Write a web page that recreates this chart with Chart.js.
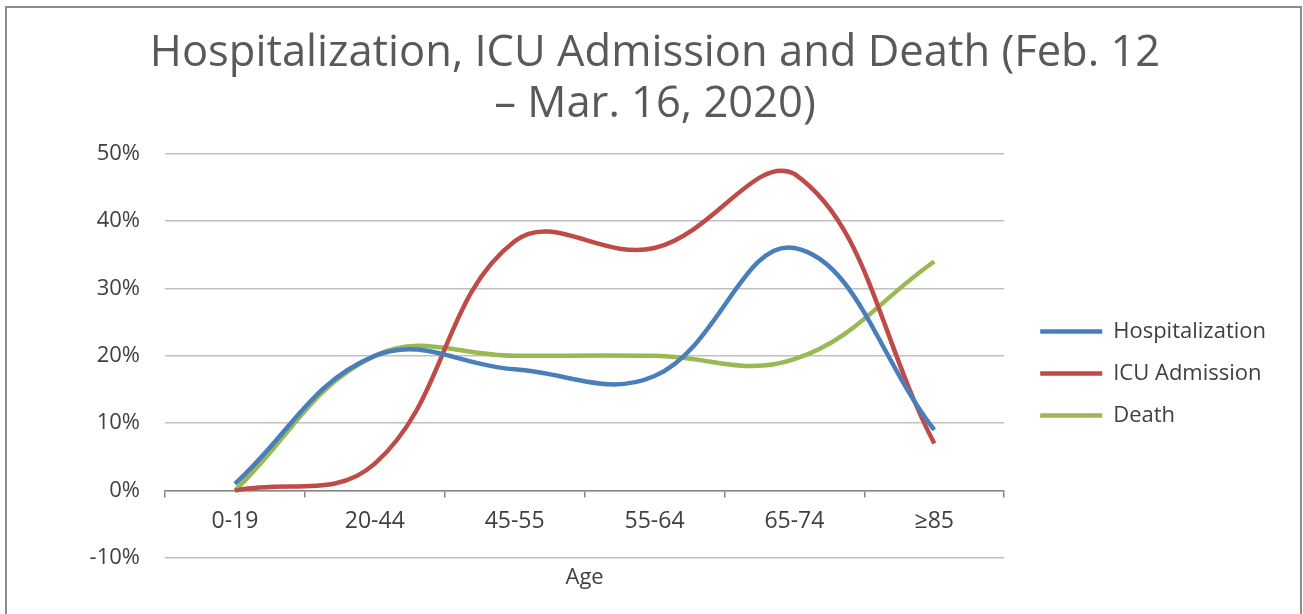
<!DOCTYPE html>
<html>
<head>
<meta charset="utf-8">
<script src="https://cdn.jsdelivr.net/npm/chart.js@4.4.1/dist/chart.umd.min.js"></script>
<style>
	html, body { margin: 0; padding: 0; background: #fff; overflow: hidden; }
	#wrap { position: relative; width: 1303px; height: 614px; }
	#frame {
		position: absolute; left: 5px; top: 6px; width: 1293px; height: 640px;
		border: 2px solid #8c8c8c; pointer-events: none;
	}
</style>
</head>
<body>
<div id="wrap">
	<canvas id="chart" width="1303" height="614"></canvas>
	<div id="frame"></div>
</div>
<script>
const ageGroups = ["0-19", "20-44", "45-55", "55-64", "65-74", "\u226585"];
const hospitalization = [1, 20, 18, 17, 36, 9];
const icuAdmission = [0, 4, 37, 36, 47, 7];
const death = [0, 20, 20, 20, 19.5, 34];

const textFont = "'Open Sans', sans-serif";

// nudge the legend to where Excel put it (right of the plot, mid height)
const legendNudge = {
	id: "legendNudge",
	afterLayout(chart) {
		const lg = chart.legend;
		lg.left += 16; lg.right += 16;
		lg.top += 84; lg.bottom += 84;
	}
};

const ctx = document.getElementById("chart").getContext("2d");

const chart = new Chart(ctx, {
	type: "line",
	data: {
		labels: ageGroups,
		datasets: [
			{ label: "Hospitalization", data: hospitalization, borderColor: "#4a7ebb", borderWidth: 4.5 },
			{ label: "ICU Admission", data: icuAdmission, borderColor: "#be4b48", borderWidth: 4.5 },
			{ label: "Death", data: death, borderColor: "#98b954", borderWidth: 4.5 }
		]
	},
	plugins: [legendNudge],
	options: {
		responsive: false,
		animation: false,
		elements: {
			line: { tension: 0.4, fill: false },
			point: { radius: 0, hoverRadius: 0 }
		},
		layout: {
			padding: { top: 21, left: 50, right: 43, bottom: 56 }
		},
		plugins: {
			tooltip: { enabled: false },
			title: {
				display: true,
				text: ["Hospitalization, ICU Admission and Death (Feb. 12", "\u2013 Mar. 16, 2020)"],
				color: "#595959",
				font: { family: textFont, size: 43.5, weight: "normal", lineHeight: 1.18 },
				padding: { top: 7, bottom: 23 }
			},
			legend: {
				position: "right",
				align: "center",
				labels: {
					usePointStyle: true,
					pointStyle: "line",
					pointStyleWidth: 62,
					boxHeight: 4,
					color: "#404040",
					padding: 20,
					font: { family: textFont, size: 22 }
				}
			}
		},
		scales: {
			x: {
				position: { y: 0 },
				offset: true,
				border: { display: true, color: "#868686", width: 1.5 },
				grid: {
					offset: true,
					drawOnChartArea: false,
					drawTicks: true,
					tickLength: 6,
					color: "#868686",
					lineWidth: 1.5
				},
				ticks: {
					color: "#404040",
					padding: 11,
					font: { family: textFont, size: 23 }
				},
				title: {
					display: true,
					text: "Age",
					color: "#404040",
					padding: { top: 18 },
					font: { family: textFont, size: 22 }
				}
			},
			y: {
				min: -10,
				max: 50,
				border: { display: false },
				grid: { color: "#c0c0c0", lineWidth: 1.5, drawTicks: false },
				afterFit: function (scale) { scale.width = 115; },
				ticks: {
					stepSize: 10,
					padding: 25,
					color: "#404040",
					font: { family: textFont, size: 22 },
					callback: function (value) { return value + "%"; }
				}
			}
		}
	}
});
</script>
</body>
</html>
